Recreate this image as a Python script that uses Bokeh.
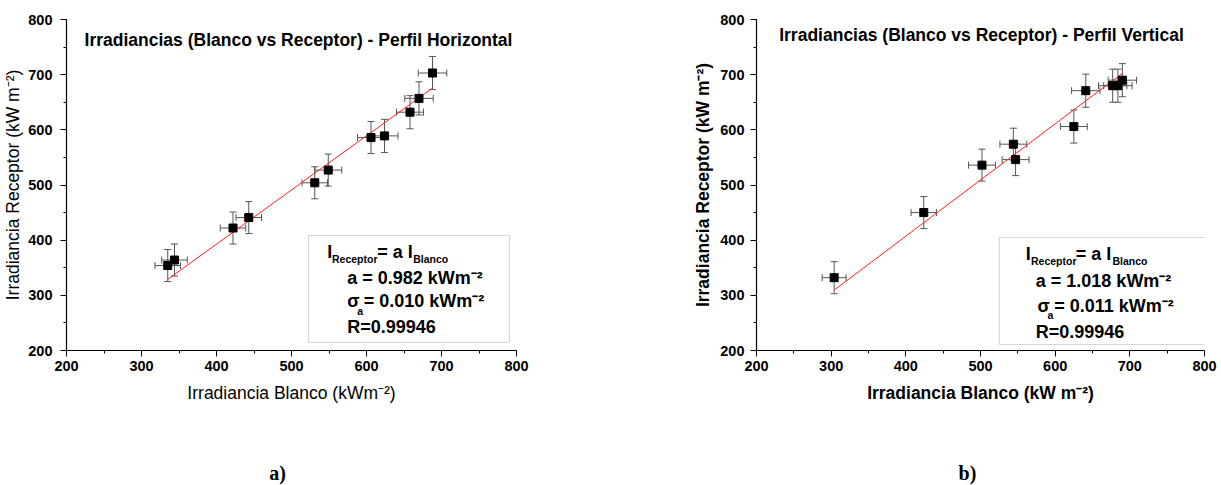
from bokeh.plotting import figure
from bokeh.models import (ColumnDataSource, Whisker, TeeHead, Label, BoxAnnotation,
                          Range1d, SingleIntervalTicker)
from bokeh.layouts import row, column
from bokeh.embed import file_html
from bokeh.resources import INLINE

# ---------------- data ----------------
# a) Perfil Horizontal
h_blanco = [335, 344, 422, 443, 531, 549, 606, 624, 658, 670, 688]
h_receptor = [354, 364, 422, 441, 504, 527, 586, 589, 632, 657, 703]
h_err_x = [17, 17, 17, 17, 17, 18, 18, 18, 18, 19, 19]
h_err_y = [29, 29, 29, 29, 29, 29, 29, 30, 30, 30, 30]
h_slope = 0.982

# b) Perfil Vertical
v_blanco = [304, 424, 502, 544, 547, 625, 641, 677, 684, 690]
v_receptor = [332, 450, 536, 574, 546, 606, 671, 680, 680, 690]
v_err_x = [16, 17, 18, 18, 18, 18, 19, 19, 19, 19]
v_err_y = [29, 29, 29, 29, 29, 30, 30, 30, 30, 30]
v_slope = 1.018

axis_min, axis_max = 200, 800
tick_step = 100

SANS = "Liberation Sans"
ERR_COLOR = "#555555"
PLOT_H = 420
STRIP_H = 65


def make_panel(xs, ys, ex, ey, slope, width, bl, br, title, title_pos,
               xlabel, ylabel, label_bold, ytick_standoff, ylabel_standoff,
               box, legend_items):
    p = figure(width=width, height=PLOT_H, output_backend="svg", toolbar_location=None,
               x_range=Range1d(axis_min, axis_max), y_range=Range1d(axis_min, axis_max),
               min_border_left=bl, min_border_right=br, min_border_top=19,
               min_border_bottom=PLOT_H - 350)
    p.outline_line_color = None
    p.xgrid.grid_line_color = None
    p.ygrid.grid_line_color = None
    p.background_fill_color = "white"
    p.border_fill_color = "white"

    for ax in (p.xaxis[0], p.yaxis[0]):
        ax.ticker = SingleIntervalTicker(interval=tick_step, num_minor_ticks=2)
        ax.axis_line_color = "black"
        ax.axis_line_width = 1.2
        ax.major_tick_line_color = "black"
        ax.minor_tick_line_color = "black"
        ax.major_tick_out = 6
        ax.major_tick_in = 0
        ax.minor_tick_out = 3
        ax.minor_tick_in = 0
        ax.major_label_text_font = SANS
        ax.major_label_text_font_style = "bold"
        ax.major_label_text_font_size = "14.5px"
        ax.major_label_text_color = "black"
        ax.axis_label_text_font = SANS
        ax.axis_label_text_font_size = "17.5px"
        ax.axis_label_text_font_style = "bold" if label_bold else "normal"
        ax.axis_label_text_color = "black"
    p.xaxis.major_label_standoff = 4
    p.xaxis.axis_label_standoff = 9
    p.yaxis.major_label_standoff = ytick_standoff
    p.yaxis.axis_label_standoff = ylabel_standoff
    p.xaxis.axis_label = xlabel
    p.yaxis.axis_label = ylabel

    src = ColumnDataSource(dict(
        x=xs, y=ys,
        xl=[a - b for a, b in zip(xs, ex)], xu=[a + b for a, b in zip(xs, ex)],
        yl=[a - b for a, b in zip(ys, ey)], yu=[a + b for a, b in zip(ys, ey)],
    ))
    wy = Whisker(source=src, base="x", lower="yl", upper="yu", dimension="height",
                 line_color=ERR_COLOR, line_width=1,
                 upper_head=TeeHead(size=7, line_color=ERR_COLOR, line_width=1),
                 lower_head=TeeHead(size=7, line_color=ERR_COLOR, line_width=1))
    wx = Whisker(source=src, base="y", lower="xl", upper="xu", dimension="width",
                 line_color=ERR_COLOR, line_width=1,
                 upper_head=TeeHead(size=7, line_color=ERR_COLOR, line_width=1),
                 lower_head=TeeHead(size=7, line_color=ERR_COLOR, line_width=1))
    p.add_layout(wy)
    p.add_layout(wx)

    fx = [min(xs), max(xs)]
    fy = [slope * v for v in fx]
    p.line(fx, fy, line_color="#ff2020", line_width=1)
    p.scatter(xs, ys, marker="square", size=8, fill_color="black", line_color="black")

    # title inside frame
    p.add_layout(Label(x=title_pos[0], y=title_pos[1], x_units="screen", y_units="screen",
                       text=title, text_font=SANS, text_font_style="bold",
                       text_font_size="17.5px", text_align="center",
                       text_baseline="middle", text_color="black"))

    # fit box
    bx = BoxAnnotation(left=box[0], right=box[1], top=box[2], bottom=box[3],
                       left_units="screen", right_units="screen",
                       top_units="screen", bottom_units="screen",
                       fill_color="white", fill_alpha=0.0,
                       line_color="#777777", line_width=1.2)
    p.add_layout(bx)

    for (txt, x, y, size) in legend_items:
        p.add_layout(Label(x=x, y=y, x_units="screen", y_units="screen", text=txt,
                           text_font=SANS, text_font_style="bold",
                           text_font_size=size, text_align="left",
                           text_baseline="middle", text_color="black"))
    return p


def make_strip(width, letter, cx):
    s = figure(width=width, height=STRIP_H, output_backend="svg", toolbar_location=None,
               x_range=Range1d(0, 1), y_range=Range1d(0, 1),
               x_axis_location=None, y_axis_location=None,
               min_border=0)
    s.outline_line_color = None
    s.grid.visible = False
    s.background_fill_color = "white"
    s.border_fill_color = "white"
    s.add_layout(Label(x=cx, y=13, x_units="screen", y_units="screen", text=letter,
                       text_font="Liberation Serif", text_font_style="bold",
                       text_font_size="20px", text_align="center",
                       text_baseline="middle", text_color="black"))
    return s


BIG, SMALL = "18px", "10.5px"

left_items = [
    ("I", 260.7, 99, BIG),
    ("Receptor", 265.5, 92, SMALL),
    ("= a I", 310.7, 99, BIG),
    ("Blanco", 346.7, 92, SMALL),
    ("a = %.3f kWm\u207b\u00b2" % h_slope, 280.7, 73, BIG),
    ("\u03c3", 280.7, 50, BIG),
    ("a", 290.7, 40, SMALL),
    ("= 0.010 kWm\u207b\u00b2", 297.3, 50, BIG),
    ("R=0.99946", 280.7, 24, BIG),
]
right_items = [
    ("I", 269.3, 97, BIG),
    ("Receptor", 274.5, 90, SMALL),
    ("= a I", 319.3, 97, BIG),
    ("Blanco", 356, 90, SMALL),
    ("a = %.3f kWm\u207b\u00b2" % v_slope, 279.3, 70, BIG),
    ("\u03c3", 281, 45, BIG),
    ("a", 291, 36, SMALL),
    ("= 0.011 kWm\u207b\u00b2", 297.7, 45, BIG),
    ("R=0.99946", 279.3, 19, BIG),
]

p1 = make_panel(h_blanco, h_receptor, h_err_x, h_err_y, h_slope, 690, 66, 174,
                "Irradiancias (Blanco vs Receptor) - Perfil Horizontal", (232, 311),
                "Irradiancia Blanco (kWm\u207b\u00b2)", "Irradiancia Receptor (kW m\u207b\u00b2)",
                False, 8, 2, (242, 443, 115, 8), left_items)
p2 = make_panel(v_blanco, v_receptor, v_err_x, v_err_y, v_slope, 531, 64, 17,
                "Irradiancias (Blanco vs Receptor) - Perfil Vertical", (225, 316),
                "Irradiancia Blanco (kW m\u207b\u00b2)", "Irradiancia Receptor (kW m\u207b\u00b2)",
                True, 6, 4, (242.7, 450, 113, 6), right_items)

s1 = make_strip(690, "a)", 277)
s2 = make_strip(531, "b)", 277)

layout = column(row(p1, p2, spacing=0), row(s1, s2, spacing=0), spacing=0)
open("out.html", "w").write(file_html(layout, INLINE))
